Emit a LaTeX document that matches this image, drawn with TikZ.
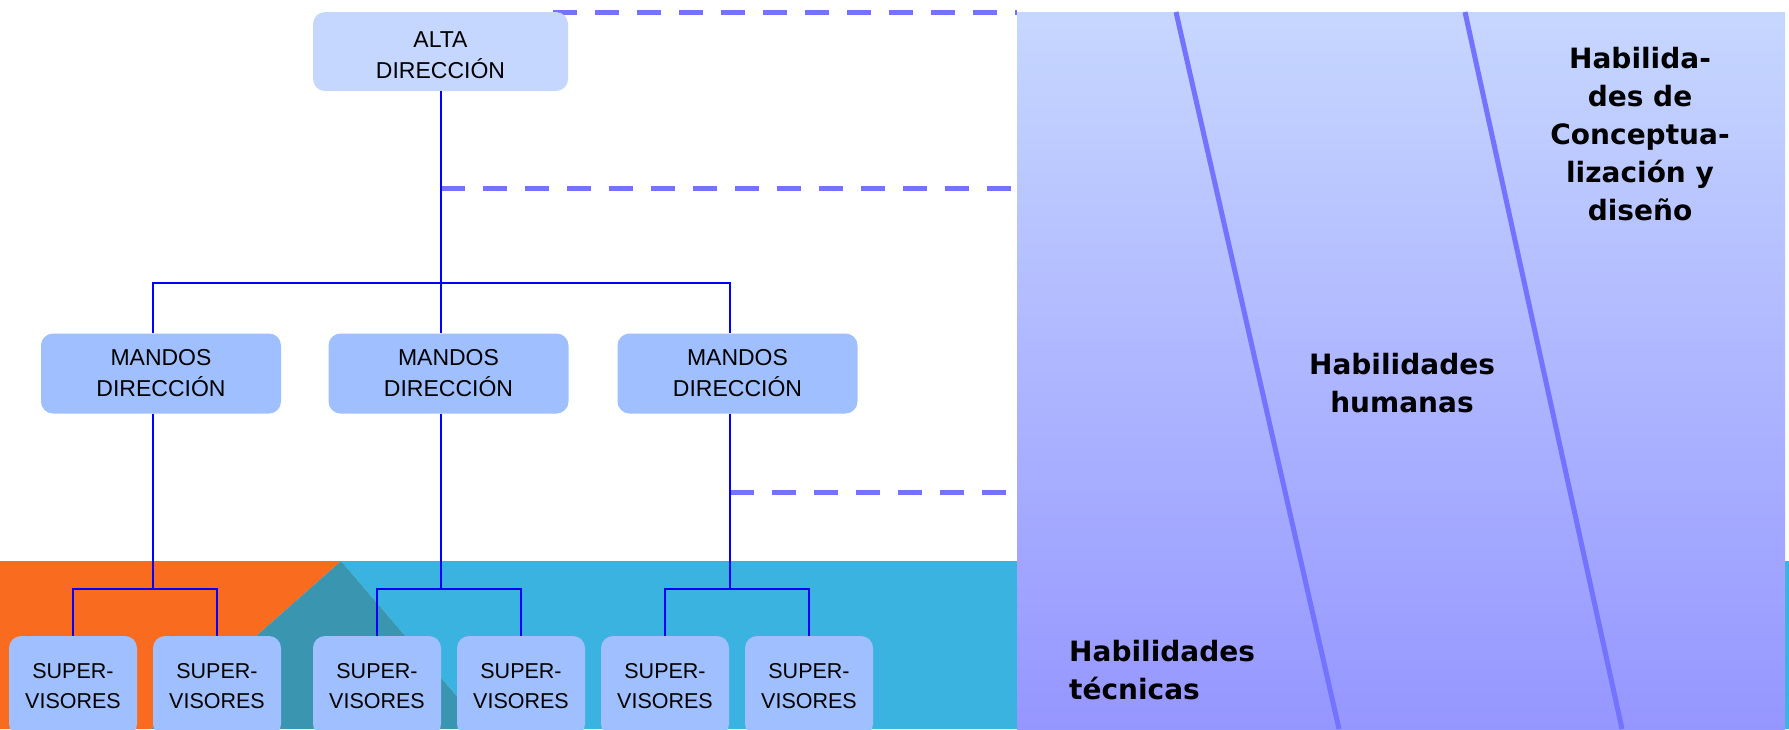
\documentclass[tikz,border=0pt]{standalone}
\usepackage{fontspec}
\setmainfont{Liberation Sans}
\newfontfamily\skillfont{DejaVu Sans}
\definecolor{altafill}{RGB}{197,215,255}
\definecolor{boxfill}{RGB}{160,191,255}
\definecolor{linkblue}{RGB}{0,0,255}
\definecolor{guideblue}{RGB}{115,115,255}
\definecolor{orangefill}{RGB}{249,107,30}
\definecolor{cyanfill}{RGB}{59,179,224}
\definecolor{tealfill}{RGB}{58,149,177}
\definecolor{paneltop}{RGB}{198,215,255}
\definecolor{panelbot}{RGB}{150,150,255}
\tikzset{
  orgbox/.style={rounded corners=12pt, inner sep=0pt, align=center, text=black,
    font=\fontsize{23}{31}\selectfont},
  topbox/.style={orgbox, fill=altafill, minimum width=255pt, minimum height=79pt},
  midbox/.style={orgbox, fill=boxfill, minimum width=240pt, minimum height=80pt},
  lowbox/.style={orgbox, fill=boxfill, minimum width=128pt, minimum height=100pt,
    font=\fontsize{21.5}{30}\selectfont},
  link/.style={draw=linkblue, line width=2pt},
  guide/.style={draw=guideblue, line width=5pt, dash pattern=on 24pt off 18pt},
  divider/.style={draw=guideblue, line width=5pt},
  skill/.style={font=\skillfont\bfseries\fontsize{28}{38}\selectfont, text=black, inner sep=0pt}
}
\begin{document}
\begin{tikzpicture}[x=1pt, y=-1pt]
\useasboundingbox (0,0) rectangle (1789,729);
\clip (0,0) rectangle (1789,729);

% coloured band along the bottom
\fill[orangefill] (0,561) -- (341,561) -- (151,729) -- (0,729) -- cycle;
\fill[cyanfill] (341,561) -- (1789,561) -- (1789,729) -- (485,729) -- cycle;
\fill[tealfill] (341,561) -- (485,729) -- (151,729) -- cycle;

% skills panel
\shade[top color=paneltop, bottom color=panelbot] (1017,12) rectangle (1785,729);
\draw[divider] (1176,12) -- (1339,729);
\draw[divider] (1465,12) -- (1622,729);

\node[skill, align=center] (concept) at (1640,134) {Habilida-\\des de\\Conceptua-\\lización y\\diseño};
\node[skill, align=center] (human) at (1402,383) {Habilidades\\humanas};
\node[skill, align=left, anchor=west] (tech) at (1069,670) {Habilidades\\técnicas};

% level guides towards the skills panel
\coordinate (hub) at (440.5,283);
\coordinate (j1) at (153,589);
\coordinate (j2) at (440.5,589);
\coordinate (j3) at (729.5,589);
\coordinate (g1) at (553,12.5);
\coordinate (g2) at (440.5,188);
\coordinate (g3) at (729.5,492);
\coordinate (e1) at (1017,12.5);
\coordinate (e2) at (1012,188);
\coordinate (e3) at (1012,492);
\draw[guide] (g1) -- (e1);
\draw[guide] (g2) -- (e2);
\draw[guide] (g3) -- (e3);

% organisation chart
\node[topbox] (alta) at (440.5,51.5) {\rule{0pt}{24pt}ALTA\\DIRECCIÓN};
\node[midbox] (m1) at (161,373.5) {MANDOS\\DIRECCIÓN};
\node[midbox] (m2) at (448.5,373.5) {MANDOS\\DIRECCIÓN};
\node[midbox] (m3) at (737.5,373.5) {MANDOS\\DIRECCIÓN};

\node[lowbox] (s1) at (73,686) {SUPER-\\VISORES};
\node[lowbox] (s2) at (217,686) {SUPER-\\VISORES};
\node[lowbox] (s3) at (377,686) {SUPER-\\VISORES};
\node[lowbox] (s4) at (521,686) {SUPER-\\VISORES};
\node[lowbox] (s5) at (665,686) {SUPER-\\VISORES};
\node[lowbox] (s6) at (809,686) {SUPER-\\VISORES};

% connectors
\draw[link] (alta.south) -- (hub);
\draw[link] ([xshift=-8pt]m1.north) |- (hub) -| ([xshift=-8pt]m3.north);
\draw[link] (hub) -- ([xshift=-8pt]m2.north);

\draw[link] ([xshift=-8pt]m1.south) -- (j1);
\draw[link] ([xshift=-8pt]m2.south) -- (j2);
\draw[link] ([xshift=-8pt]m3.south) -- (j3);

\draw[link] (s1.north) |- (j1) -| (s2.north);
\draw[link] (s3.north) |- (j2) -| (s4.north);
\draw[link] (s5.north) |- (j3) -| (s6.north);
\end{tikzpicture}
\end{document}
